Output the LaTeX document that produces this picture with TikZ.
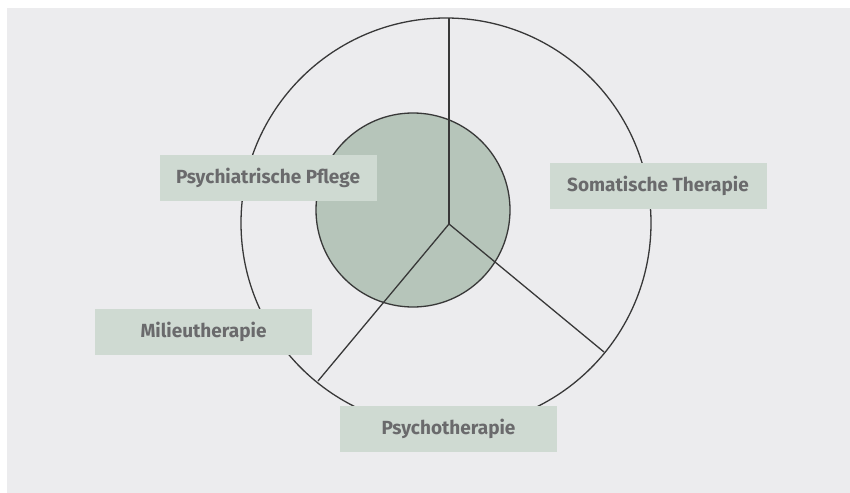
\documentclass[tikz,border=0pt]{standalone}
\usepackage{fontspec}
\setmainfont{Fira Sans}
\definecolor{bggray}{HTML}{ECECEE}
\definecolor{corefill}{HTML}{B6C5BA}
\definecolor{boxfill}{HTML}{CFDAD2}
\definecolor{labeltext}{HTML}{6A6A6C}
\definecolor{linegray}{HTML}{383838}
\tikzset{
  labelbox/.style={fill=boxfill, text=labeltext, font=\bfseries\fontsize{19}{22}\selectfont,
    minimum width=217pt, minimum height=46pt, inner sep=0pt},
  ring/.style={draw=linegray, line width=1.3pt}
}

\begin{document}
\begin{tikzpicture}[x=1pt, y=-1pt]
            \useasboundingbox (0,0) rectangle (850,492);
            \fill[bggray] (7,8) rectangle (851,493);
            % outer ring and core
            \draw[ring] (446,223) circle (205);
            \draw[ring, fill=corefill] (413,210) circle (97);
            % spokes
            \coordinate (hub) at (449,224);
            \coordinate (top) at (449,18);
            \coordinate (right) at (604,352);
            \coordinate (left) at (318,381);
            \draw[ring] (hub) -- (top);
            \draw[ring] (hub) -- (right);
            \draw[ring] (hub) -- (left);
            % labels
            \node[labelbox] (pflege) at (268,178) {Psychiatrische Pflege};
            \node[labelbox] (somatik) at (658,186) {Somatische Therapie};
            \node[labelbox] (milieu) at (203.5,332) {Milieutherapie};
            \node[labelbox] (psycho) at (448.5,428.5) {Psychotherapie};
        \end{tikzpicture}
\end{document}
